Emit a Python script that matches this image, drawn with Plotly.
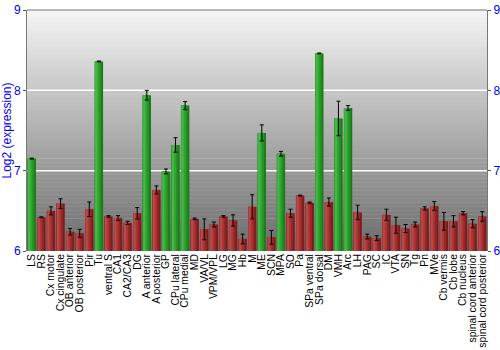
import plotly.graph_objects as go

categories = ["LS", "RS", "Cx motor", "Cx cingulate", "OB anterior", "OB posterior", "Pir", "Tu",
              "ventral S", "CA1", "CA2/CA3", "DG", "A anterior", "A posterior", "GP", "CPu lateral",
              "CPu medial", "MD", "VA/VL", "VPM/VPL", "LG", "MG", "Hb", "M", "ME", "SCN", "MPA",
              "SO", "Pa", "SPa ventral", "SPa dorsal", "DM", "VMH", "Arc", "LH", "PAG", "SC", "IC",
              "VTA", "SN", "Tg", "Pn", "MVe", "Cb vermis", "Cb lobe", "Cb nucleus",
              "spinal cord anterior", "spinal cord posterior"]
values = [7.15, 6.42, 6.50, 6.59, 6.24, 6.22, 6.52, 8.36,
          6.43, 6.41, 6.35, 6.47, 7.94, 6.76, 6.99, 7.32,
          7.81, 6.40, 6.27, 6.33, 6.43, 6.38, 6.15, 6.55, 7.47, 6.17, 7.21,
          6.47, 6.69, 6.60, 8.46, 6.61, 7.65, 7.78, 6.48, 6.18, 6.16, 6.45,
          6.32, 6.28, 6.33, 6.53, 6.56, 6.37, 6.37, 6.47,
          6.34, 6.43]
errors = [0.005, 0.005, 0.05, 0.06, 0.04, 0.05, 0.09, 0.005,
          0.01, 0.03, 0.02, 0.07, 0.06, 0.05, 0.03, 0.09,
          0.05, 0.01, 0.13, 0.03, 0.01, 0.07, 0.06, 0.15, 0.10, 0.085, 0.03,
          0.05, 0.005, 0.01, 0.005, 0.05, 0.215, 0.03, 0.09, 0.03, 0.03, 0.07,
          0.10, 0.05, 0.03, 0.02, 0.055, 0.11, 0.07, 0.02,
          0.05, 0.06]
enriched = {"LS", "Tu", "A anterior", "GP", "CPu lateral", "CPu medial", "ME", "MPA",
            "SPa dorsal", "VMH", "Arc"}

base = 6
heights = [v - base for v in values]

green_shades = ["#1c7c1c", "#259225", "#30a630", "#45b845"]
red_shades = ["#7e1c1c", "#962828", "#ab3636", "#bd4848"]
layers = [(0.88, -0.44), (0.66, -0.42), (0.44, -0.40), (0.22, -0.38)]

fig = go.Figure()
for i, (w, off) in enumerate(layers):
    colors = [green_shades[i] if c in enriched else red_shades[i] for c in categories]
    fig.add_trace(go.Bar(x=categories, y=heights, base=base, width=w, offset=off,
                         marker=dict(color=colors, line=dict(width=0)),
                         hoverinfo="skip", showlegend=False))

fig.add_trace(go.Scatter(x=categories, y=values, mode="markers",
                         marker=dict(size=1, opacity=0),
                         error_y=dict(type="data", array=errors, color="black",
                                      thickness=1, width=2),
                         showlegend=False))
fig.add_trace(go.Scatter(x=categories, y=values, yaxis="y2", mode="markers",
                         marker=dict(size=1, opacity=0), showlegend=False, hoverinfo="skip"))

# vertical gray gradient background
n = 60
shapes = []
for k in range(n):
    t = k / (n - 1)
    g = int(round(108 + (244 - 108) * t))
    shapes.append(dict(type="rect", xref="paper", yref="paper", x0=0, x1=1,
                       y0=k / n, y1=(k + 1) / n + 0.002, line=dict(width=0),
                       fillcolor=f"rgb({g},{g},{g})", layer="below"))
for yv in [7, 8]:
    shapes.append(dict(type="line", xref="paper", yref="y", x0=0, x1=1, y0=yv, y1=yv,
                       line=dict(color="white", width=1.5), layer="below"))
shapes.append(dict(type="line", xref="paper", yref="paper", x0=0, x1=1, y0=1, y1=1,
                   line=dict(color="#777777", width=1)))

fig.update_layout(
    width=500, height=350,
    margin=dict(l=27, r=13, t=10, b=99),
    paper_bgcolor="white", plot_bgcolor="rgba(0,0,0,0)",
    barmode="overlay", bargap=0.1,
    shapes=shapes,
    font=dict(family="Liberation Sans, Arial", size=11, color="black"),
    xaxis=dict(tickangle=-90, tickfont=dict(size=10.4, color="black"), showgrid=False,
               tickmode="array", tickvals=categories, ticktext=categories,
               ticks="", showline=False, automargin=False,
               range=[-0.5, len(categories) - 0.5]),
    yaxis=dict(range=[6, 9], tickvals=[6, 7, 8, 9], showgrid=False, zeroline=False,
               ticks="outside", ticklen=3, tickcolor="#555555",
               tickfont=dict(size=12, color="blue"), automargin=False,
               title=dict(text="Log2 (expression)", font=dict(size=12, color="blue"), standoff=4),
               showline=True, linecolor="#777777"),
    yaxis2=dict(range=[6, 9], tickvals=[6, 7, 8, 9], overlaying="y", side="right",
                showgrid=False, zeroline=False, ticks="outside", ticklen=3,
                tickcolor="#555555", tickfont=dict(size=12, color="blue"), automargin=False,
                showline=True, linecolor="#777777"),
)

fig.write_html("out.html")
